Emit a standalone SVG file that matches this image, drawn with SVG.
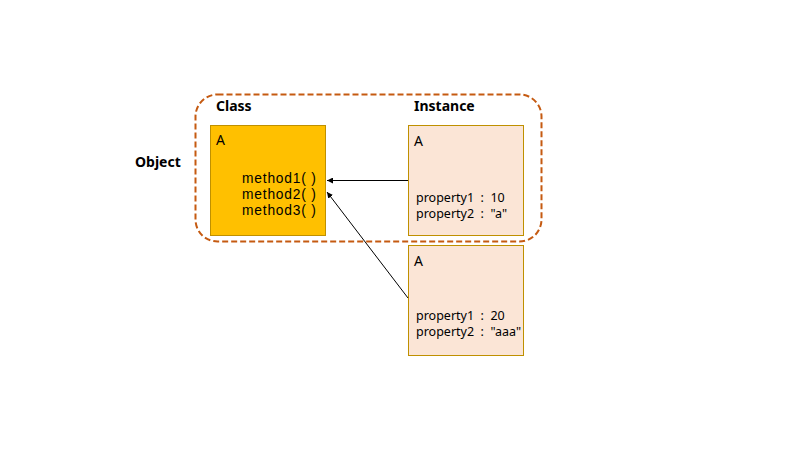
<svg xmlns="http://www.w3.org/2000/svg" width="800" height="450" viewBox="0 0 800 450">
<defs>
<style>
text{font-family:"Noto Sans","Open Sans","DejaVu Sans",sans-serif;fill:#000;white-space:pre}
.h{font-weight:bold;font-size:14px}
.n{font-size:14px}
.m{font-family:"Liberation Sans",Arial,sans-serif;font-size:13.8px;letter-spacing:0.8px}
.p{font-size:12.5px}
.cls{fill:#FFC000;stroke:#BF9000;stroke-width:1}
.inst{fill:#FBE5D6;stroke:#BF9000;stroke-width:1}
.conn{stroke:#000;stroke-width:1;fill:none;marker-end:url(#ah)}
</style>
<marker id="ah" viewBox="0 0 10 10" refX="10" refY="5" markerWidth="6" markerHeight="6" orient="auto" markerUnits="userSpaceOnUse">
<path d="M0,0 L10,5 L0,10 z" fill="#000"/>
</marker>
</defs>
<rect width="800" height="450" fill="#fff"/>
<g id="object">
<rect x="195.5" y="94.5" width="346" height="147" rx="22" ry="22" fill="none" stroke="#C55A11" stroke-width="2" stroke-dasharray="6,3"/>
<text class="h" x="135" y="167">Object</text>
<text class="h" x="216" y="111">Class</text>
<text class="h" x="414" y="111">Instance</text>
</g>
<g id="classA">
<rect class="cls" x="210.5" y="125.5" width="115" height="110"/>
<text class="n" x="216" y="145">A</text>
<text class="m" x="242" y="183">method1( )</text>
<text class="m" x="242" y="199">method2( )</text>
<text class="m" x="242" y="215">method3( )</text>
</g>
<g id="instance1">
<rect class="inst" x="408.5" y="125.5" width="115" height="110"/>
<text class="n" x="414" y="146">A</text>
<text class="p" x="416" y="202" xml:space="preserve">property1  :  10</text>
<text class="p" x="416" y="218" xml:space="preserve">property2  :  "a"</text>
</g>
<g id="instance2">
<rect class="inst" x="408.5" y="245.5" width="115" height="110"/>
<text class="n" x="414" y="266">A</text>
<text class="p" x="416" y="320" xml:space="preserve">property1  :  20</text>
<text class="p" x="416" y="336" xml:space="preserve">property2  :  "aaa"</text>
</g>
<g id="connectors">
<line class="conn" x1="408" y1="180.5" x2="327" y2="180.5"/>
<line class="conn" x1="408" y1="298" x2="327" y2="192"/>
</g>
</svg>
